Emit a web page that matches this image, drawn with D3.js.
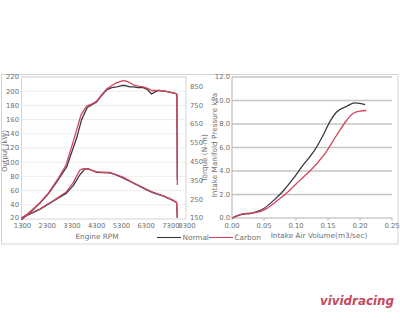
<!DOCTYPE html>
<html>
<head>
<meta charset="utf-8">
<script src="https://cdn.jsdelivr.net/npm/d3@7"></script>
<style>
  body { margin: 0; background: #fff; }
  text { font-family: "DejaVu Sans", Verdana, sans-serif; fill: #707070; }
</style>
</head>
<body>
<script>
// engine dyno: rpm vs output (kW) and torque (N-m)
const rpmTicks = [1300, 2300, 3300, 4300, 5300, 6300, 7300, 7950];
const rpmTickLabels = ["1300", "2300", "3300", "4300", "5300", "6300", "7300", "8300"];
const kwTicks = [20, 40, 60, 80, 100, 120, 140, 160, 180, 200, 220];
const nmTicks = [150, 250, 350, 450, 550, 650, 750, 850];

const powerNormal = [[1300,19],[1700,31],[2040,42],[2400,56],[2800,76],[3120,93],[3350,116],[3530,134],[3730,160],[3960,177],[4150,181],[4340,185],[4540,194],[4740,202],[4950,205],[5150,206],[5350,208],[5500,208],[5680,206],[5820,206],[6000,205],[6220,205],[6400,202],[6560,196],[6700,199],[6830,201],[7100,200],[7370,198],[7510,197],[7580,196],[7600,75]];
const powerCarbon = [[1300,20],[1700,32],[2040,43],[2400,57],[2800,78],[3100,96],[3330,122],[3500,142],[3700,166],[3930,179],[4150,182],[4340,186],[4540,195],[4740,203],[4950,208],[5150,212],[5410,215],[5550,214],[5680,212],[5820,209],[6000,207],[6220,206],[6400,204],[6560,201],[6830,201],[7100,200],[7370,198],[7510,197],[7580,196],[7600,68]];
const torqueNormal = [[1300,150],[1700,175],[2040,196],[2580,240],[3120,282],[3390,322],[3660,380],[3860,410],[4000,412],[4340,393],[4600,392],[4880,390],[5150,378],[5420,362],[5750,340],[6090,318],[6360,300],[6630,284],[7040,266],[7440,242],[7570,232],[7600,150]];
const torqueCarbon = [[1300,152],[1700,178],[2040,198],[2580,242],[3120,290],[3390,338],[3660,405],[3800,413],[4000,410],[4340,395],[4600,393],[4880,392],[5150,380],[5420,366],[5750,342],[6090,320],[6360,302],[6630,286],[7040,268],[7440,244],[7570,234],[7600,150]];

// intake air volume vs manifold pressure
const airTicks = [0, 0.05, 0.10, 0.15, 0.20, 0.25];
const kpaTicks = [0, 2, 4, 6, 8, 10, 12];
const mapNormal = [[0,0],[0.0177,0.34],[0.028,0.38],[0.0385,0.54],[0.049,0.79],[0.065,1.5],[0.080,2.3],[0.095,3.3],[0.111,4.5],[0.127,5.6],[0.142,7.0],[0.153,8.2],[0.163,9.0],[0.179,9.5],[0.192,9.8],[0.200,9.75],[0.208,9.65]];
const mapCarbon = [[0,0],[0.017,0.35],[0.038,0.47],[0.054,0.8],[0.070,1.45],[0.085,2.1],[0.106,3.2],[0.127,4.3],[0.148,5.7],[0.163,7.0],[0.179,8.3],[0.189,8.9],[0.200,9.1],[0.210,9.15]];

const black = "#3a3a42", red = "#d2455e";

const svg = d3.select("body").append("svg").attr("width", 400).attr("height", 320);

// outer frame
svg.append("rect").attr("x", 1.5).attr("y", 74.5).attr("width", 396.5).attr("height", 169.5)
   .attr("fill", "none").attr("stroke", "#d4d4d4");

// ---- left chart
const x1 = d3.scaleLinear().domain([1300, 7950]).range([21.5, 186]);
const yKw = d3.scaleLinear().domain([20, 220]).range([219, 77]);
const yNm = d3.scaleLinear().domain([150, 900]).range([218, 77]);

svg.selectAll("line.grid1").data(kwTicks.slice(1)).enter().append("line")
   .attr("x1", 21.5).attr("x2", 186)
   .attr("y1", d => yKw(d)).attr("y2", d => yKw(d))
   .attr("stroke", "#ededed");
svg.append("rect").attr("x", 21.5).attr("y", 77).attr("width", 164.5).attr("height", 142)
   .attr("fill", "none").attr("stroke", "#d4d4d4");

svg.selectAll("text.kw").data(kwTicks).enter().append("text")
   .attr("x", 19).attr("y", d => yKw(d) + (d === 20 ? 1 : 2.3)).attr("text-anchor", "end")
   .attr("font-size", 6.8).text(d => d);
svg.selectAll("text.nm").data(nmTicks).enter().append("text")
   .attr("x", 190).attr("y", d => yNm(d) + 2.3)
   .attr("font-size", 6.8).text(d => d);
svg.selectAll("text.rpm").data(rpmTicks).enter().append("text")
   .attr("x", d => x1(d) + 1).attr("y", 228).attr("text-anchor", "middle")
   .attr("font-size", 6.8).text((d, i) => rpmTickLabels[i]);

const lineKw = d3.line().x(d => x1(d[0])).y(d => yKw(d[1]));
const lineNm = d3.line().x(d => x1(d[0])).y(d => yNm(d[1]));
[[powerNormal, black, lineKw], [torqueNormal, black, lineNm], [powerCarbon, red, lineKw], [torqueCarbon, red, lineNm]]
  .forEach(function(s) {
    svg.append("path").attr("d", s[2](s[0])).attr("fill", "none")
       .attr("stroke", s[1]).attr("stroke-width", 1.3).attr("stroke-linejoin", "round");
  });

svg.append("text").attr("transform", "translate(7,151) rotate(-90)").attr("text-anchor", "middle")
   .attr("font-size", 6.8).text("Output (kW)");
svg.append("text").attr("x", 97).attr("y", 238.5).attr("text-anchor", "middle")
   .attr("font-size", 7.3).text("Engine RPM");

// ---- right chart
const x2 = d3.scaleLinear().domain([0, 0.25]).range([232, 392]);
const yKpa = d3.scaleLinear().domain([0, 12]).range([218, 77]);

svg.selectAll("line.grid2").data(kpaTicks.slice(1)).enter().append("line")
   .attr("x1", 232).attr("x2", 392)
   .attr("y1", d => yKpa(d)).attr("y2", d => yKpa(d))
   .attr("stroke", "#c4c4c4").attr("stroke-width", 1.3);
svg.append("line").attr("x1", 232).attr("x2", 232).attr("y1", 77).attr("y2", 218).attr("stroke", "#b0b0b0");
svg.append("line").attr("x1", 232).attr("x2", 392).attr("y1", 218).attr("y2", 218).attr("stroke", "#b0b0b0");
svg.selectAll("line.tick2").data(airTicks).enter().append("line")
   .attr("x1", d => x2(d)).attr("x2", d => x2(d)).attr("y1", 218).attr("y2", 220.5).attr("stroke", "#b0b0b0");

svg.selectAll("text.kpa").data(kpaTicks).enter().append("text")
   .attr("x", 230).attr("y", d => yKpa(d) + 2.3).attr("text-anchor", "end")
   .attr("font-size", 6.8).text(d => d.toFixed(1));
svg.selectAll("text.air").data(airTicks).enter().append("text")
   .attr("x", d => x2(d)).attr("y", 227.5).attr("text-anchor", "middle")
   .attr("font-size", 6.8).text(d => d.toFixed(2));

const lineMap = d3.line().x(d => x2(d[0])).y(d => yKpa(d[1])).curve(d3.curveMonotoneX);
[[mapNormal, black], [mapCarbon, red]].forEach(function(s) {
  svg.append("path").attr("d", lineMap(s[0])).attr("fill", "none")
     .attr("stroke", s[1]).attr("stroke-width", 1.3);
});

svg.append("text").attr("transform", "translate(207,158) rotate(-90)").attr("text-anchor", "middle")
   .attr("font-size", 7.3).text("Torque (N-m)");
svg.append("text").attr("transform", "translate(217,145) rotate(-90)").attr("text-anchor", "middle")
   .attr("font-size", 7.3).text("Intake Manifold Pressure kPa");
svg.append("text").attr("x", 319).attr("y", 238).attr("text-anchor", "middle")
   .attr("font-size", 7.3).text("Intake Air Volume(m3/sec)");

// legend
const legend = [["Normal", black, 157], ["Carbon", red, 209]];
legend.forEach(function(l) {
  svg.append("line").attr("x1", l[2]).attr("x2", l[2] + 24).attr("y1", 237.5).attr("y2", 237.5)
     .attr("stroke", l[1]).attr("stroke-width", 1.1);
  svg.append("text").attr("x", l[2] + 25.5).attr("y", 240).attr("font-size", 7.3).text(l[0]);
});

// watermark
svg.append("text").attr("x", 320).attr("y", 305).attr("font-size", 13)
   .attr("font-weight", "bold").attr("font-style", "italic")
   .attr("textLength", 74).attr("lengthAdjust", "spacingAndGlyphs")
   .style("fill", "#c4485c").text("vividracing");
</script>
</body>
</html>
